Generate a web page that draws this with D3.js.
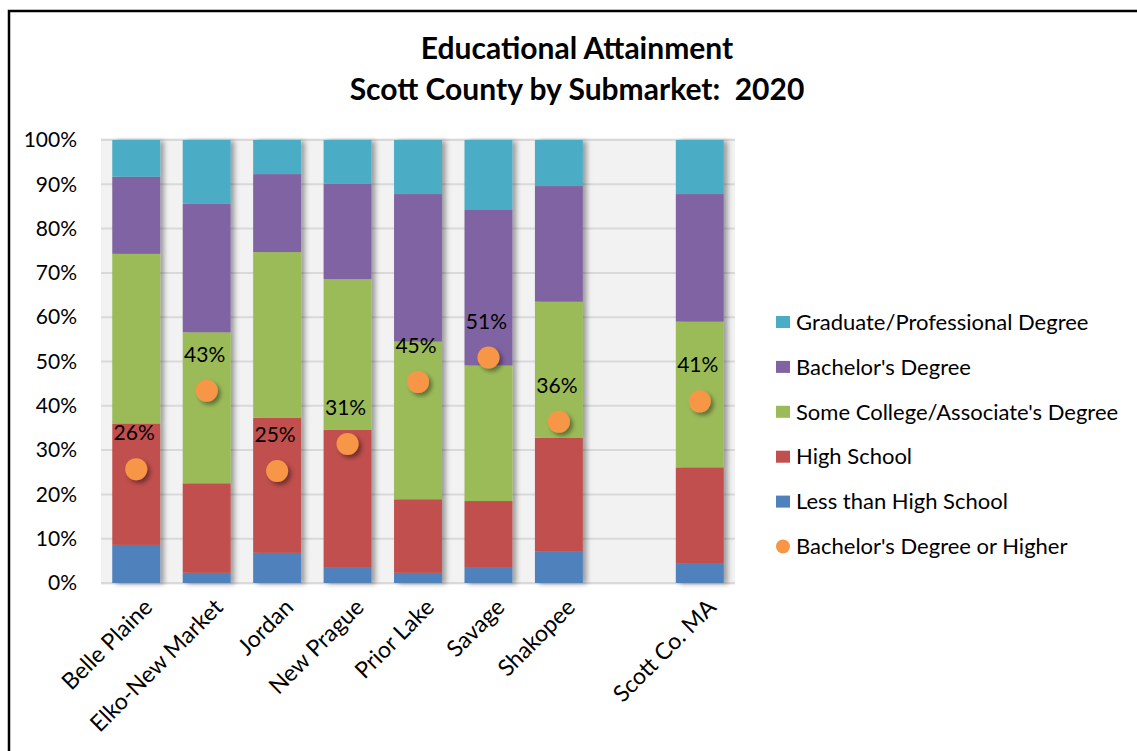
<!DOCTYPE html>
<html>
<head>
<meta charset="utf-8">
<script src="https://cdn.jsdelivr.net/npm/d3@7"></script>
<style>
  body { margin: 0; background: #fff; }
  text { font-family: Lato, 'Liberation Sans', sans-serif; fill: #000; }
</style>
</head>
<body>
<script>
// submarkets, in chart order (a gap sits before the county total)
const categories = ['Belle Plaine', 'Elko-New Market', 'Jordan', 'New Prague', 'Prior Lake', 'Savage', 'Shakopee', 'Scott Co. MA']

// shares in percent
const lessThanHS  = [8.6, 2.3, 6.8, 3.6, 2.3, 3.6, 7.2, 4.5]
const highSchool  = [27.4, 20.2, 30.5, 31.0, 16.6, 14.9, 25.6, 21.6]
const someCollege = [38.3, 34.1, 37.4, 34.0, 35.6, 30.6, 30.7, 32.9]
const bachelors   = [17.4, 29.0, 17.6, 21.5, 33.3, 35.1, 26.1, 28.8]
const graduate    = [8.3, 14.4, 7.7, 9.9, 12.2, 15.8, 10.4, 12.2]
const bachelorOrHigher = [25.7, 43.4, 25.3, 31.4, 45.4, 50.9, 36.4, 41.0]

const yTicks = [0, 10, 20, 30, 40, 50, 60, 70, 80, 90, 100]

const keys = ['lessThanHS', 'highSchool', 'someCollege', 'bachelors', 'graduate']
const names = {
	lessThanHS: 'Less than High School',
	highSchool: 'High School',
	someCollege: "Some College/Associate's Degree",
	bachelors: "Bachelor's Degree",
	graduate: 'Graduate/Professional Degree'
}
const colors = {
	lessThanHS: '#4F81BD',
	highSchool: '#C0504D',
	someCollege: '#9BBB59',
	bachelors: '#8064A2',
	graduate: '#4BACC6'
}
const dotColor = '#F79646'

const W = 1137, H = 751
const plot = { left: 101, right: 735, top: 140, bottom: 583 }

const table = categories.map((c, i) => ({
	name: c,
	lessThanHS: lessThanHS[i],
	highSchool: highSchool[i],
	someCollege: someCollege[i],
	bachelors: bachelors[i],
	graduate: graduate[i],
	bplus: bachelorOrHigher[i]
}))

const slots = [...categories.slice(0, 7), '__gap', categories[7]]

const x = d3.scaleBand()
	.domain(slots)
	.range([plot.left, plot.right])
	.paddingInner(0.32)
	.paddingOuter(0.16)

const y = d3.scaleLinear()
	.domain([0, 100])
	.range([plot.bottom, plot.top])

const svg = d3.select('body')
	.append('svg')
	.attr('width', W)
	.attr('height', H)

const defs = svg.append('defs')
defs.append('filter')
	.attr('id', 'barShadow')
	.attr('x', '-20%').attr('y', '-5%').attr('width', '150%').attr('height', '110%')
	.append('feDropShadow')
	.attr('dx', 4).attr('dy', 1).attr('stdDeviation', 2.5)
	.attr('flood-color', '#000').attr('flood-opacity', 0.35)
defs.append('filter')
	.attr('id', 'dotShadow')
	.attr('x', '-50%').attr('y', '-50%').attr('width', '220%').attr('height', '220%')
	.append('feDropShadow')
	.attr('dx', 3).attr('dy', 3).attr('stdDeviation', 2)
	.attr('flood-color', '#000').attr('flood-opacity', 0.4)

// chart frame (top and left edges only visible)
svg.append('path')
	.attr('d', `M9,${H} L9,11 L${W},11`)
	.attr('fill', 'none')
	.attr('stroke', '#000')
	.attr('stroke-width', 2.5)

// title
const title = svg.append('text')
	.attr('text-anchor', 'middle')
	.style('font-size', '30px')
	.style('font-weight', 'bold')
	.style('white-space', 'pre')
title.append('tspan').attr('x', 577).attr('y', 59).text('Educational Attainment')
title.append('tspan').attr('x', 577).attr('y', 100).text('Scott County by Submarket:  2020')

// plot background
svg.append('rect')
	.attr('x', plot.left)
	.attr('y', plot.top - 2)
	.attr('width', plot.right - plot.left)
	.attr('height', plot.bottom - plot.top + 4)
	.attr('fill', '#F2F2F2')

svg.append('g')
	.selectAll('line')
	.data(yTicks)
	.enter()
	.append('line')
	.attr('x1', plot.left)
	.attr('x2', plot.right)
	.attr('y1', d => y(d))
	.attr('y2', d => y(d))
	.attr('stroke', '#D9D9D9')
	.attr('stroke-width', 2)

const yAxis = d3.axisLeft(y)
	.tickValues(yTicks)
	.tickSize(0)
	.tickPadding(24)
	.tickFormat(d => d + '%')

svg.append('g')
	.attr('transform', `translate(${plot.left},0)`)
	.call(yAxis)
	.call(g => g.select('.domain').remove())
	.selectAll('text')
	.style('font-size', '21px')
	.style('font-family', 'Lato, sans-serif')

// stacked columns
const stacked = d3.stack().keys(keys)(table)

const cols = svg.append('g')
	.selectAll('g')
	.data(table)
	.enter()
	.append('g')
	.attr('filter', 'url(#barShadow)')

cols.selectAll('rect')
	.data((d, i) => stacked.map(s => ({ key: s.key, v: s[i], name: d.name })))
	.enter()
	.append('rect')
	.attr('x', d => x(d.name))
	.attr('width', x.bandwidth())
	.attr('y', d => y(d.v[1]))
	.attr('height', d => y(d.v[0]) - y(d.v[1]))
	.attr('fill', d => colors[d.key])

// bachelor's or higher markers
const marks = svg.append('g')
	.selectAll('g')
	.data(table)
	.enter()
	.append('g')

marks.append('circle')
	.attr('cx', d => x(d.name) + x.bandwidth() / 2)
	.attr('cy', d => y(d.bplus))
	.attr('r', 11)
	.attr('fill', dotColor)
	.attr('filter', 'url(#dotShadow)')

marks.append('text')
	.attr('x', d => x(d.name) + x.bandwidth() / 2 - 2)
	.attr('y', d => y(d.bplus) - 29)
	.attr('text-anchor', 'middle')
	.style('font-size', '21px')
	.text(d => Math.round(d.bplus) + '%')

// category labels
svg.append('g')
	.selectAll('text')
	.data(categories)
	.enter()
	.append('text')
	.attr('transform', d => `translate(${x(d) + x.bandwidth() / 2 + 12},603) rotate(-45)`)
	.attr('text-anchor', 'end')
	.attr('dy', '0.35em')
	.style('font-size', '23px')
	.text(d => d)

// legend
const legendKeys = keys.slice().reverse()
const legend = svg.append('g')
	.attr('transform', 'translate(776,322)')

legendKeys.forEach((k, i) => {
	legend.append('rect')
		.attr('x', 0)
		.attr('y', i * 44.9 - 6)
		.attr('width', 14)
		.attr('height', 12)
		.attr('fill', colors[k])
	legend.append('text')
		.attr('x', 20)
		.attr('y', i * 44.9)
		.attr('dy', '0.35em')
		.style('font-size', '22px')
		.text(names[k])
})

legend.append('circle')
	.attr('cx', 7)
	.attr('cy', 5 * 44.9)
	.attr('r', 7)
	.attr('fill', dotColor)
legend.append('text')
	.attr('x', 20)
	.attr('y', 5 * 44.9)
	.attr('dy', '0.35em')
	.style('font-size', '22px')
	.text("Bachelor's Degree or Higher")
</script>
</body>
</html>
